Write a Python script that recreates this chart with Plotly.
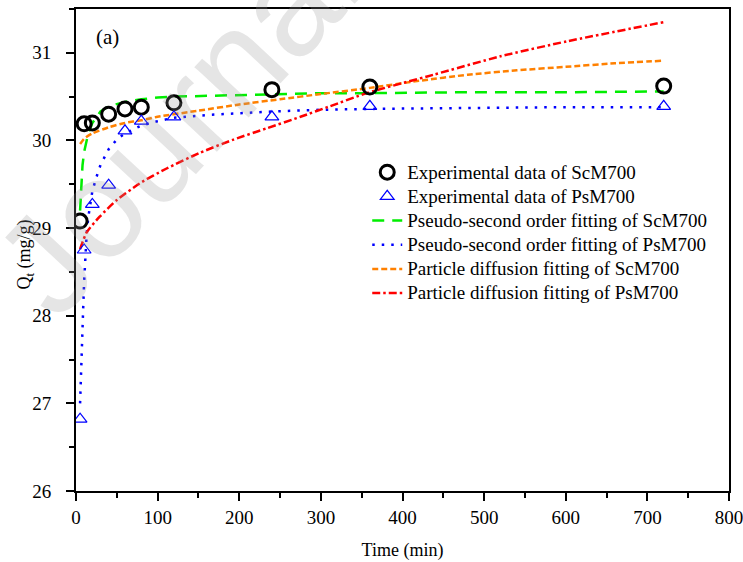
import plotly.graph_objects as go

# Experimental data
time_exp = [5, 10, 20, 40, 60, 80, 120, 240, 360, 720]
scm_exp = [29.08, 30.19, 30.20, 30.30, 30.36, 30.38, 30.43, 30.58, 30.61, 30.62]
psm_exp = [26.82, 28.75, 29.27, 29.49, 30.11, 30.22, 30.27, 30.27, 30.39, 30.39]

# Pseudo-second order fitting curves
pso_t_scm = [5, 6, 7, 8, 10, 12, 15, 20, 30, 40, 60, 80, 100, 120, 160, 200, 240, 300, 360, 480, 600, 720]
pso_scm = [29.20, 29.45, 29.60, 29.72, 29.87, 29.97, 30.08, 30.20, 30.33, 30.39, 30.44, 30.47, 30.49,
           30.50, 30.51, 30.52, 30.53, 30.54, 30.54, 30.55, 30.55, 30.56]

pso_t_psm = [5, 6, 7, 8, 9, 10, 11, 12, 13, 15, 20, 25, 30, 40, 50, 60, 80, 100, 120, 160, 200, 240,
             300, 360, 480, 600, 720]
pso_psm = [27.00, 27.35, 27.62, 27.90, 28.14, 28.40, 28.60, 28.78, 28.92, 29.12, 29.42, 29.58, 29.72,
           29.90, 30.01, 30.08, 30.17, 30.22, 30.26, 30.29, 30.31, 30.33, 30.35, 30.36, 30.37, 30.38, 30.38]

# Particle diffusion fitting curves
pd_t_scm = [5, 10, 20, 40, 60, 80, 100, 150, 200, 250, 300, 360, 420, 480, 540, 600, 660, 720]
pd_scm = [29.96, 30.02, 30.08, 30.15, 30.20, 30.23, 30.27, 30.34, 30.41, 30.47, 30.53, 30.60, 30.68,
          30.75, 30.80, 30.84, 30.88, 30.91]

pd_t_psm = [5, 13, 29, 50, 78, 111, 152, 193, 234, 275, 311, 356, 438, 520, 601, 720]
pd_psm = [28.76, 28.95, 29.13, 29.32, 29.51, 29.68, 29.86, 30.01, 30.14, 30.27, 30.39, 30.54, 30.75,
          30.96, 31.13, 31.35]

x_ticks = [0, 100, 200, 300, 400, 500, 600, 700, 800]
y_ticks = [26, 27, 28, 29, 30, 31]

FONT = "Liberation Serif"


def lg(name):
    return '<span style="font-size:19px">' + name + '</span>'


fig = go.Figure()

# fit lines first (drawn underneath markers)
fig.add_trace(go.Scatter(
    x=pso_t_scm, y=pso_scm, mode="lines", name=lg("Pseudo-second order fitting of ScM700"),
    line=dict(color="#00ee00", width=2.5, dash="12px,8px"), legendrank=3))
fig.add_trace(go.Scatter(
    x=pso_t_psm, y=pso_psm, mode="lines", name=lg("Pseudo-second order fitting of PsM700"),
    line=dict(color="#0000ff", width=2.5, dash="2.5px,7px"), legendrank=4))
fig.add_trace(go.Scatter(
    x=pd_t_scm, y=pd_scm, mode="lines", name=lg("Particle diffusion fitting of ScM700"),
    line=dict(color="#ff8000", width=2.5, dash="6px,3px", shape="spline", smoothing=0.6), legendrank=5))
fig.add_trace(go.Scatter(
    x=pd_t_psm, y=pd_psm, mode="lines", name=lg("Particle diffusion fitting of PsM700"),
    line=dict(color="#ff0000", width=2.5, dash="8px,3px,2.5px,3px", shape="spline", smoothing=0.6),
    legendrank=6))
fig.add_trace(go.Scatter(
    x=time_exp, y=scm_exp, mode="markers", name=lg("Experimental data of ScM700"),
    marker=dict(symbol="circle-open", size=14, color="black", line=dict(width=3, color="black")),
    legendrank=1))
fig.add_trace(go.Scatter(
    x=time_exp, y=psm_exp, mode="markers", name=lg("Experimental data of PsM700"),
    marker=dict(symbol="triangle-up-open", size=12, color="blue", line=dict(width=1.2, color="blue")),
    legendrank=2))

fig.update_layout(
    width=743, height=562, autosize=False,
    margin=dict(l=76, r=14, t=9, b=71, autoexpand=False),
    paper_bgcolor="white", plot_bgcolor="white",
    font=dict(family=FONT, size=19, color="black"),
    showlegend=True,
    legend=dict(x=0.446, y=0.697, xanchor="left", yanchor="top", bgcolor="rgba(0,0,0,0)",
                font=dict(family=FONT, size=16.3), traceorder="normal", tracegroupgap=0),
    xaxis=dict(range=[0, 800], tickvals=x_ticks, ticktext=[str(v) for v in x_ticks],
               ticks="outside", ticklen=8, tickwidth=1.5, tickcolor="black",
               showline=True, linewidth=2, linecolor="black", mirror=True,
               showgrid=False, zeroline=False, ticklabelstandoff=0, automargin=False,
               ticklabeloverflow="allow",
               minor=dict(dtick=50, ticks="outside", ticklen=5, tickwidth=1.5, tickcolor="black"),
               title=dict(text="Time (min)", font=dict(family=FONT, size=18), standoff=17)),
    yaxis=dict(range=[26, 31.5], tickvals=y_ticks, ticktext=[str(v) for v in y_ticks],
               ticks="outside", ticklen=8, tickwidth=1.5, tickcolor="black",
               showline=True, linewidth=2, linecolor="black", mirror=True,
               showgrid=False, zeroline=False, ticklabelstandoff=11, automargin=False,
               ticklabeloverflow="allow",
               minor=dict(dtick=0.5, ticks="outside", ticklen=5, tickwidth=1.5, tickcolor="black")),
    annotations=[
        dict(text="Q<sub>t</sub> (mg/g)", xref="paper", yref="paper", x=-0.077, y=0.49,
             xanchor="center", yanchor="middle", textangle=-90, showarrow=False,
             font=dict(family=FONT, size=18)),
        dict(text="(a)", xref="paper", yref="paper", x=0.027, y=0.942, xanchor="left", yanchor="middle",
             showarrow=False, font=dict(family=FONT, size=21)),
        dict(text="Journal", xref="paper", yref="paper", x=0.156, y=0.764,
             xanchor="center", yanchor="middle", textangle=-47, showarrow=False,
             font=dict(family="Liberation Sans", size=140, color="rgba(150,150,150,0.25)")),
    ],
)

# remove the default 8px page margin so the 743x562 figure fills the window exactly
fig.write_html("out.html", config={"displayModeBar": False},
               post_script="document.body.style.margin='0px';")
